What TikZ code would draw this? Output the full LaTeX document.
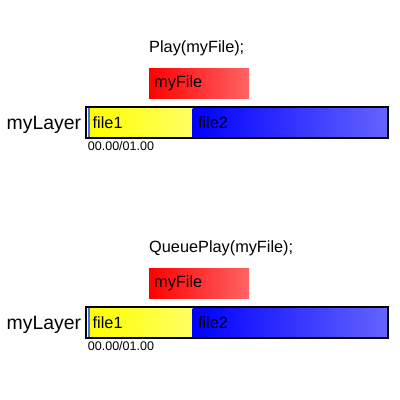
\documentclass[tikz,border=0pt]{standalone}
\usepackage{fontspec}
\setmainfont{Liberation Sans}
\usetikzlibrary{positioning}
\definecolor{newred}{RGB}{255,0,0}
\definecolor{newredlt}{RGB}{255,100,100}
\definecolor{clipyel}{RGB}{255,255,0}
\definecolor{clipyellt}{RGB}{255,255,100}
\definecolor{clipblue}{RGB}{0,0,255}
\definecolor{clipbluelt}{RGB}{100,100,255}
\definecolor{headblue}{RGB}{70,110,230}
\tikzset{
  cliptxt/.style={rectangle, inner ysep=0pt, minimum height=29pt, anchor=west,
    font=\fontsize{16.3}{18}\selectfont, align=left, shading=axis},
  yclip/.style={cliptxt, left color=clipyel, right color=clipyellt,
    inner xsep=2.5pt, text width=97pt},
  bclip/.style={cliptxt, left color=clipblue, right color=clipbluelt,
    inner xsep=5.5pt, text width=184pt},
  newclip/.style={cliptxt, left color=newred, right color=newredlt,
    inner xsep=5pt, text width=90pt, minimum height=30pt},
  playhead/.style={rectangle, fill=headblue, inner sep=0pt, minimum width=2pt,
    minimum height=29pt, anchor=west},
  layerbar/.style={rectangle, draw=black, line width=2pt, outer sep=0pt,
    minimum width=301.5pt, minimum height=31pt},
  cmdtxt/.style={font=\fontsize{16.3}{18}\selectfont, inner sep=0pt, anchor=west},
  layertxt/.style={font=\fontsize{19.4}{21}\selectfont, inner sep=0pt},
  timetxt/.style={font=\fontsize{12.5}{14}\selectfont, inner sep=0pt}
}
\begin{document}
\begin{tikzpicture}[x=1pt,y=-1pt]
  \useasboundingbox (0,0) rectangle (400,400);
  % Play
  \node[cmdtxt] (cmd1) at (149,48) {Play(myFile);};
  \node[newclip] (new1) at (149,83) {myFile};
  \node[playhead] (head1) at (88,122.5) {};
  \node[yclip] (clip1a) at (90,122.5) {file1};
  \node[bclip,right=0pt of clip1a] (clip1b) {file2};
  \node[layerbar] (bar1) at (237,122.5) {};
  \node[layertxt,left=5pt of bar1.west,yshift=-2pt] (name1) {myLayer};
  \node[timetxt,below right=3pt and 1.5pt of bar1.south west] (time1) {00.00/01.00};
  % QueuePlay
  \begin{scope}[yshift=-200pt]
    \node[cmdtxt] (cmd2) at (149,48) {QueuePlay(myFile);};
    \node[newclip] (new2) at (149,83) {myFile};
    \node[playhead] (head2) at (88,122.5) {};
    \node[yclip] (clip2a) at (90,122.5) {file1};
    \node[bclip,right=0pt of clip2a] (clip2b) {file2};
    \node[layerbar] (bar2) at (237,122.5) {};
    \node[layertxt,left=5pt of bar2.west,yshift=-2pt] (name2) {myLayer};
    \node[timetxt,below right=3pt and 1.5pt of bar2.south west] (time2) {00.00/01.00};
  \end{scope}
\end{tikzpicture}
\end{document}
